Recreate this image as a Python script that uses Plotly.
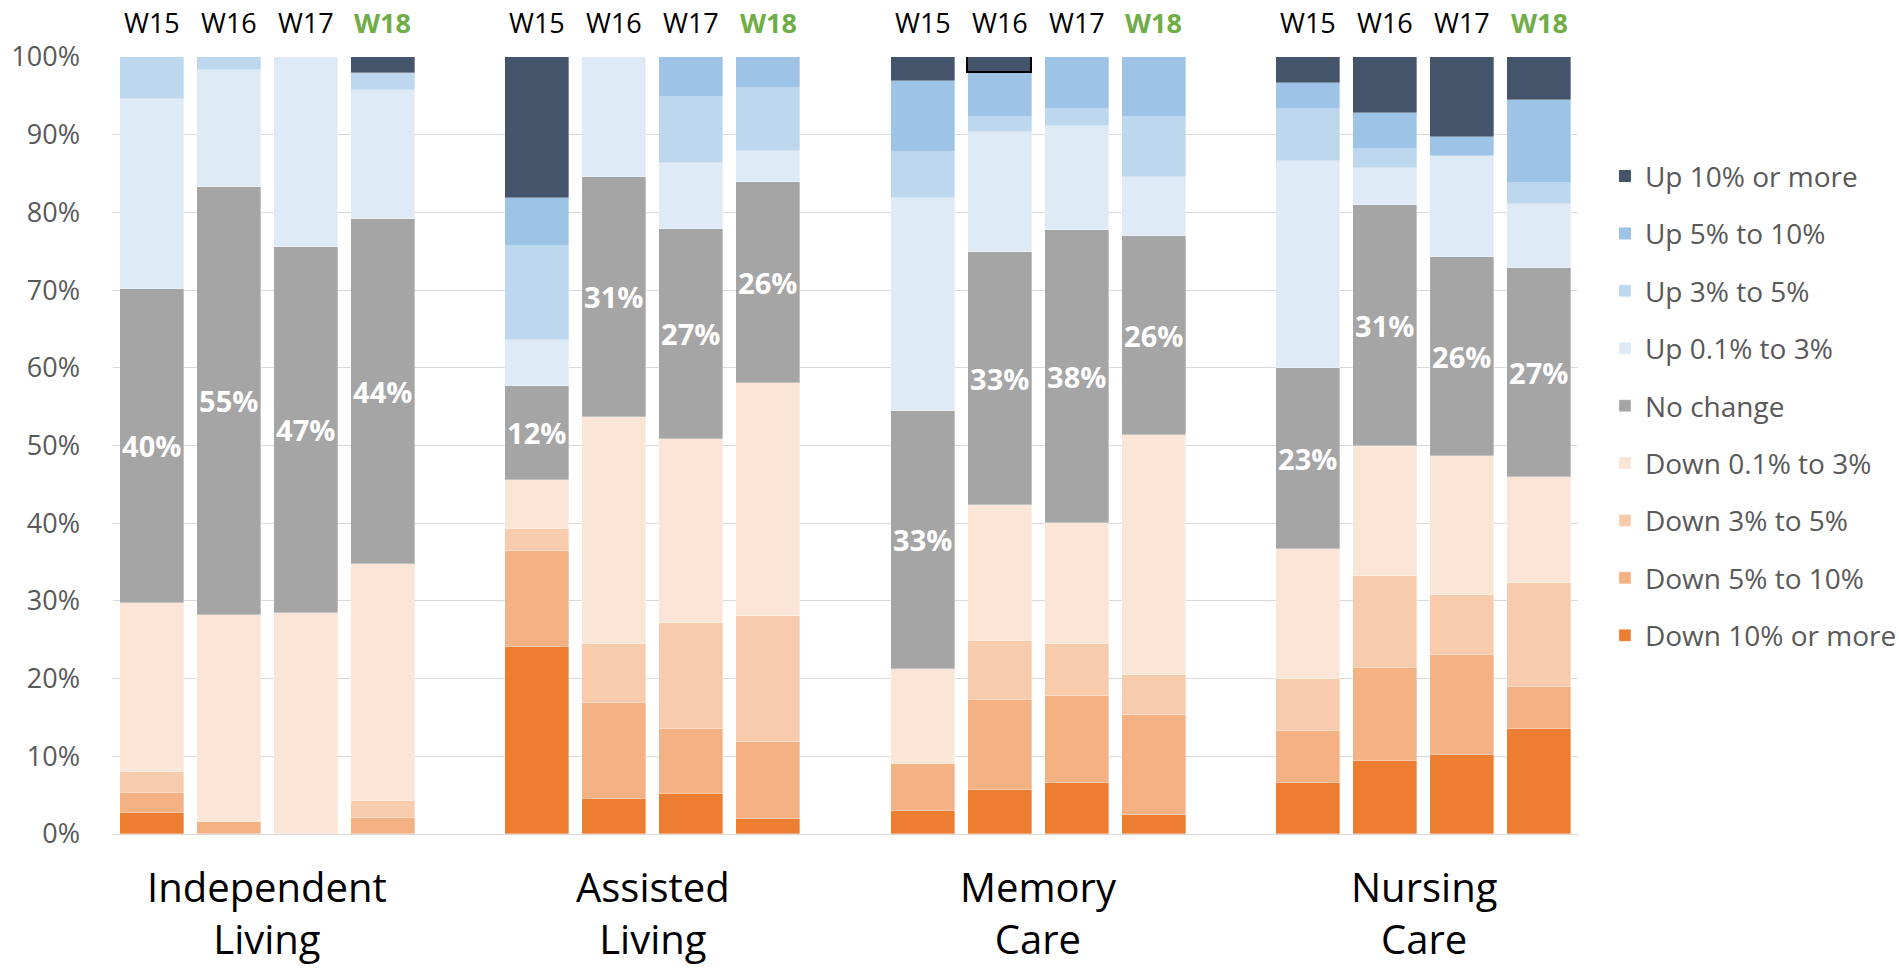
import plotly.graph_objects as go

# ---- data (percent of operators) ----
groups = ["Independent<br>Living", "Assisted<br>Living", "Memory<br>Care", "Nursing<br>Care"]
weeks = ["W15", "W16", "W17", "W18"]

series_names = ["Down 10% or more", "Down 5% to 10%", "Down 3% to 5%", "Down 0.1% to 3%",
                "No change", "Up 0.1% to 3%", "Up 3% to 5%", "Up 5% to 10%", "Up 10% or more"]

down_10_plus = [2.65, 0, 0, 0,     24.1, 4.5, 5.1, 1.9,    3.0, 5.7, 6.6, 2.5,     6.6, 9.4, 10.2, 13.5]
down_5_10 = [2.65, 1.6, 0, 2.0,    12.3, 12.4, 8.4, 10.0,  6.05, 11.6, 11.1, 12.8, 6.7, 12.0, 12.8, 5.4]
down_3_5 = [2.7, 0, 0, 2.3,        2.9, 7.6, 13.6, 16.1,   0, 7.6, 6.7, 5.2,       6.6, 11.8, 7.7, 13.4]
down_0_3 = [21.7, 26.6, 28.5, 30.4, 6.2, 29.2, 23.7, 30.0, 12.15, 17.4, 15.6, 30.8, 16.8, 16.8, 18.0, 13.6]
no_change = [40.4, 55.1, 47.0, 44.4, 12.1, 30.9, 27.1, 25.9, 33.3, 32.6, 37.7, 25.6, 23.3, 30.9, 25.6, 27.0]
up_0_3 = [24.5, 15.0, 24.5, 16.6,  6.0, 15.4, 8.5, 4.0,    27.3, 15.4, 13.4, 7.7,  26.6, 4.8, 12.9, 8.2]
up_3_5 = [5.4, 1.7, 0, 2.3,        12.1, 0, 8.5, 8.1,      6.0, 2.0, 2.2, 7.7,     6.7, 2.4, 0, 2.7]
up_5_10 = [0, 0, 0, 0,             6.1, 0, 5.1, 4.0,       9.1, 5.6, 6.7, 7.7,     3.4, 4.7, 2.5, 10.7]
up_10_plus = [0, 0, 0, 2.0,        18.2, 0, 0, 0,          3.1, 2.1, 0, 0,         3.3, 7.2, 10.3, 5.5]

series_values = [down_10_plus, down_5_10, down_3_5, down_0_3, no_change,
                 up_0_3, up_3_5, up_5_10, up_10_plus]
series_colors = ["#ED7D31", "#F4B183", "#F8CBAD", "#FBE5D6", "#A5A5A5",
                 "#DEEBF7", "#BDD7EE", "#9DC3E6", "#44546A"]

FONT = "Open Sans"

# slot positions: 4 weeks per group, one empty slot between groups
xpos = [g * 5 + w for g in range(len(groups)) for w in range(len(weeks))]

fig = go.Figure()
n_series = len(series_names)
for i, (name, vals, col) in enumerate(zip(series_names, series_values, series_colors)):
    line_w = [0.6 if v > 0 else 0.0 for v in vals]
    line_c = ["rgba(255,255,255,0.55)"] * len(vals)
    if name == "Up 10% or more":
        # highlighted (selected) segment: Memory Care W16
        idx = 2 * 4 + 1
        line_w[idx] = 1.8
        line_c[idx] = "#000000"
    kw = {}
    if name == "No change":
        kw = dict(text=[f"<b>{round(v)}%</b>" for v in vals], textposition="inside",
                  insidetextanchor="middle", constraintext="none", textangle=0,
                  textfont=dict(color="white", size=29, family=FONT))
    fig.add_trace(go.Bar(
        x=xpos, y=vals, name=name, width=0.83, legendgroup=name,
        legendrank=n_series - i,
        marker=dict(color=col, line=dict(width=line_w, color=line_c)),
        hoverinfo="name+y", **kw))

# week labels above the bars
for g in range(len(groups)):
    for w, wk in enumerate(weeks):
        is_last = (w == len(weeks) - 1)
        fig.add_annotation(
            x=g * 5 + w, y=1.044, xref="x", yref="paper", showarrow=False,
            text=f"<b>{wk}</b>" if is_last else wk,
            font=dict(family=FONT, size=27, color="#70AD47" if is_last else "#000000"),
            xanchor="center", yanchor="middle")

# group labels below the axis
for g, grp in enumerate(groups):
    fig.add_annotation(
        x=g * 5 + 1.5, y=-0.030, xref="x", yref="paper", showarrow=False,
        text=grp, font=dict(family=FONT, size=40, color="#000000"),
        xanchor="center", yanchor="top", align="center")

fig.update_layout(
    width=1899, height=969,
    barmode="stack", bargap=0,
    plot_bgcolor="white", paper_bgcolor="white",
    margin=dict(l=113, r=321, t=57, b=135, autoexpand=False),
    font=dict(family=FONT, color="#595959"),
    legend=dict(x=1.0184, xanchor="left", y=0.551, yanchor="middle",
                traceorder="grouped", tracegroupgap=18,
                font=dict(family=FONT, size=28, color="#595959")),
    showlegend=True,
)
fig.update_xaxes(range=[-0.5, 18.5], showticklabels=False, showgrid=False,
                 zeroline=False, showline=False, ticks="")
fig.update_yaxes(range=[0, 100], dtick=10, ticksuffix="%", showgrid=True,
                 gridcolor="#D9D9D9", gridwidth=1.3, zeroline=True,
                 zerolinecolor="#D9D9D9", zerolinewidth=1.3,
                 tickfont=dict(family=FONT, size=27, color="#595959"),
                 ticklabelstandoff=32)

fig.write_html("out.html", config={"displayModeBar": False},
               post_script="document.body.style.margin='0';")
